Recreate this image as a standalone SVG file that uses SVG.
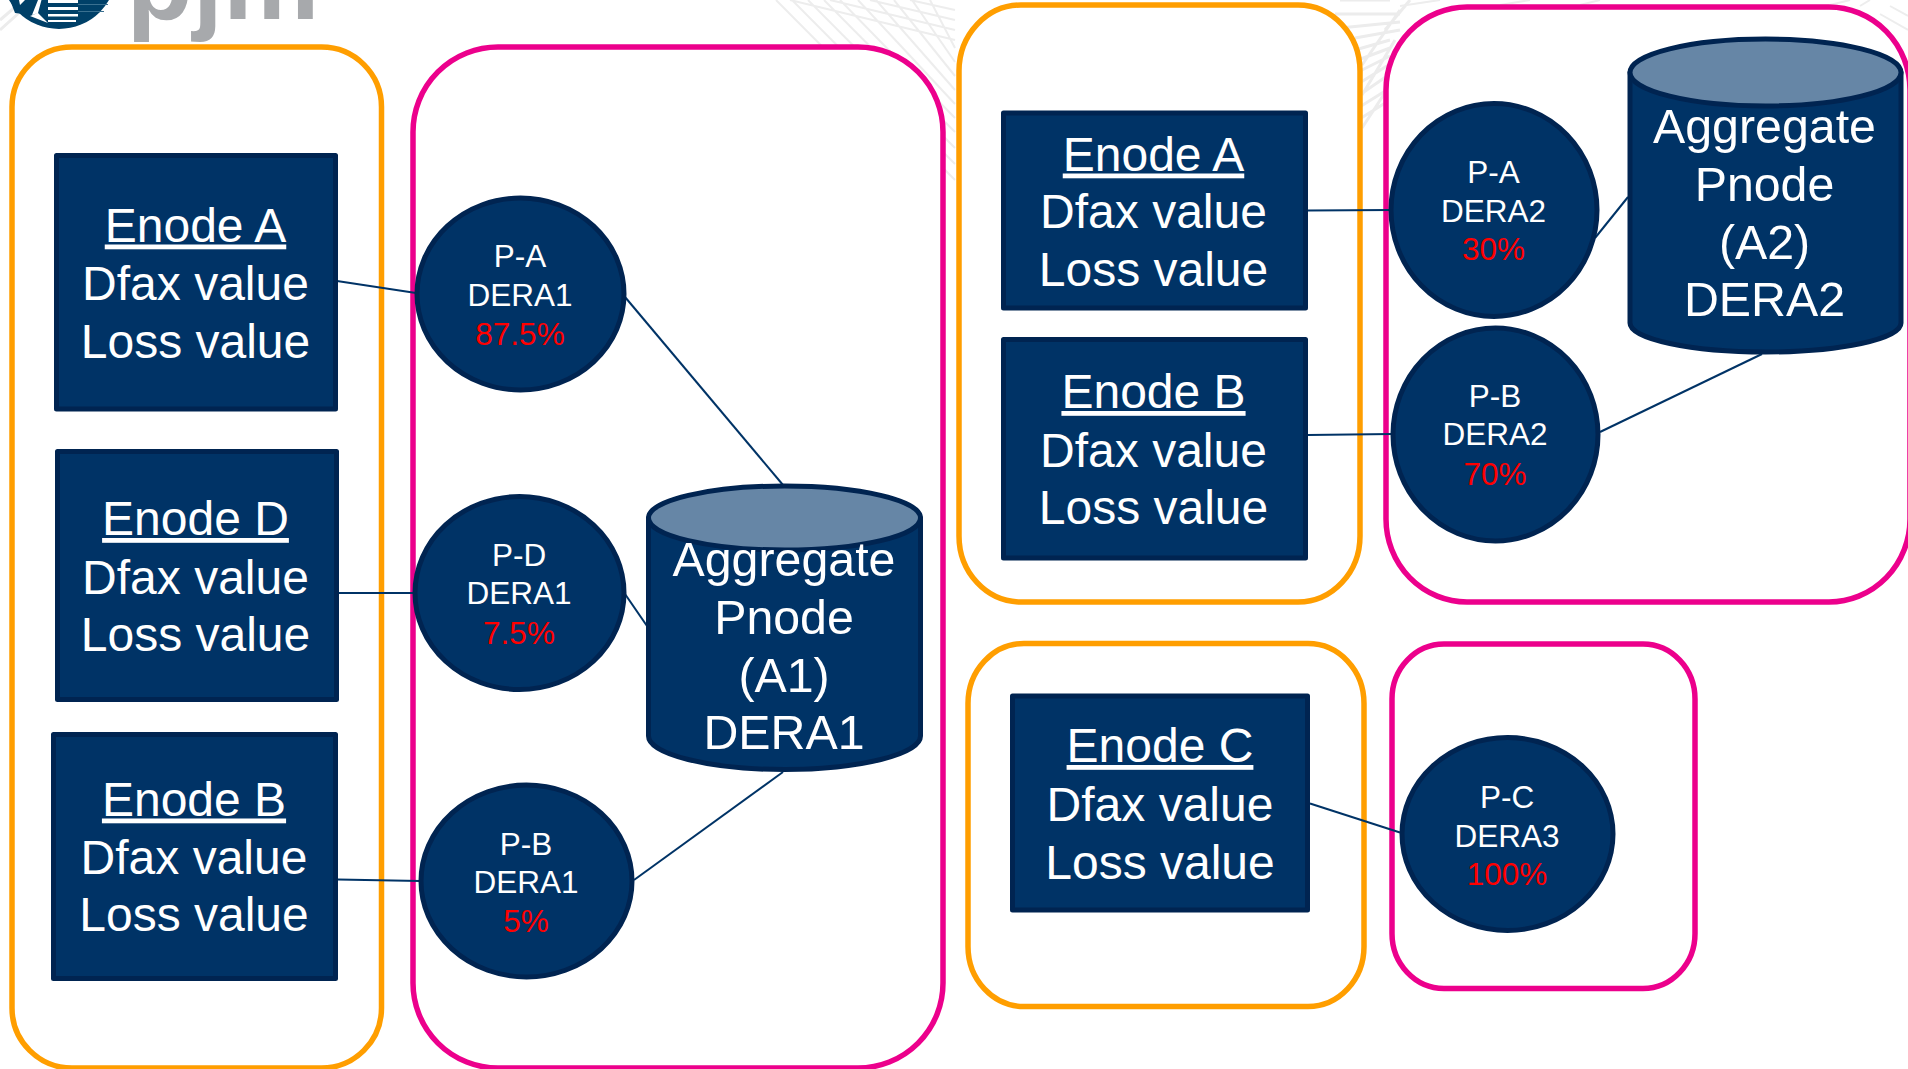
<svg xmlns="http://www.w3.org/2000/svg" width="1908" height="1069" viewBox="0 0 1908 1069">
<style>
text{font-family:"Liberation Sans",Arial,sans-serif;text-anchor:middle;fill:#fff}
.big{font-size:48px}
.agg{font-size:48.3px}
.sm{font-size:31.5px}
.pct{fill:#ff0000}
.u{text-decoration:underline}
.n{fill:#003366;stroke:#002451;stroke-width:5;stroke-linejoin:round}
.top{fill:#6686a6;stroke:#002451;stroke-width:5}
.or{fill:#fff;stroke:#ff9e00;stroke-width:5.5}
.pk{fill:#fff;stroke:#ec008c;stroke-width:5.5}
.c{stroke:#003366;stroke-width:2;fill:none}
.bg{stroke:#ededed;stroke-width:2;fill:none}
.bg3{stroke:#ececec;stroke-width:3;fill:none}
</style>
<rect width="1908" height="1069" fill="#fff"/>
<g id="background">
<path class="bg" d="M776 0L955 180M792 0L955 164M808 0L955 148M824 0L955 132M840 0L955 118M858 0L955 104M876 0L955 90M894 0L955 76M912 0L955 62M930 0L955 48M790 0L955 40M830 0L955 30M870 0L955 20M910 0L955 10"/>
<path class="bg3" d="M1335 14H1400M1340 28L1400 22M1355 38L1400 30M1355 50L1390 40M1358 60L1390 48M1358 72L1390 56M1358 84L1390 64M1358 96L1390 74M1358 108L1390 88M1358 120L1390 100M1362 128L1390 85M1362 95L1395 40M1362 65L1400 10M1385 30L1410 0M1390 0L1340 0"/>
<path class="bg" d="M1400 6L1440 0M1500 5L1530 0M1580 5L1600 0M1830 5L1850 0M1860 6L1870 0M1880 14L1908 30M1890 6L1908 16"/>
<path class="bg3" d="M0 20L14 8M0 30L20 12"/>
</g>
<g id="logo">
<circle cx="59" cy="-28.6" r="57.6" fill="#004068"/>
<path fill="#004068" d="M10 0L15 13L32 15L38 0Z"/>
<path fill="#fff" d="M20 5L25 0H19ZM32 15L38 13L41.500 0H38ZM38 13L48 23L30 16Z"/>
<path fill="#fff" d="M48 0H78V3H48ZM48 7H78V10H48ZM48 14H78V16.500H48ZM48 20H76V22H48Z"/>
<path fill="#3a7090" d="M78 4H108V5H78ZM78 11H104V12H78Z"/>
<text id="pjm" x="126.500" y="18.5" style="font-size:108.500px;font-weight:bold;fill:#a7a9ac;text-anchor:start">pjm</text>
</g>
<g id="groups">
<rect id="group-enodes-1" class="or" x="12" y="47" width="369.5" height="1021" rx="60" ry="60"/>
<rect id="group-pnodes-1" class="pk" x="413" y="47" width="530" height="1021" rx="85" ry="85"/>
<rect id="group-enodes-2" class="or" x="959" y="5" width="401" height="597" rx="62" ry="66"/>
<rect id="group-pnodes-2" class="pk" x="1386" y="7" width="524" height="595" rx="81" ry="83"/>
<rect id="group-enodes-3" class="or" x="968" y="643.5" width="396" height="363" rx="56" ry="60"/>
<rect id="group-pnodes-3" class="pk" x="1392" y="644" width="303" height="344.500" rx="52" ry="55"/>
</g>
<g id="connectors">
<path class="c" d="M337 281L416 293"/>
<path class="c" d="M337 593L414 593"/>
<path class="c" d="M338 879.500L420 881"/>
<path class="c" d="M625 297L783 485"/>
<path class="c" d="M625 594L647 626"/>
<path class="c" d="M634 880L783 772"/>
<path class="c" d="M1308 210.500L1391 210"/>
<path class="c" d="M1308 435L1392 434"/>
<path class="c" d="M1595 238L1628 197"/>
<path class="c" d="M1600 432L1762 354"/>
<path class="c" d="M1310 803.500L1400 832.500"/>
</g>
<g id="enode-a-1"><rect class="n" x="56.500" y="155.500" width="279" height="253.500"/>
<text class="big u" x="195.500" y="241.500">Enode A</text><text class="big" x="195.500" y="299.500">Dfax value</text><text class="big" x="195.500" y="357.500">Loss value</text></g>
<g id="enode-d-1"><rect class="n" x="57.500" y="451.500" width="279" height="248"/>
<text class="big u" x="195.500" y="535">Enode D</text><text class="big" x="195.500" y="593.500">Dfax value</text><text class="big" x="195.500" y="650.500">Loss value</text></g>
<g id="enode-b-1"><rect class="n" x="53.500" y="734.500" width="282" height="244"/>
<text class="big u" x="194" y="815.500">Enode B</text><text class="big" x="194" y="873.500">Dfax value</text><text class="big" x="194" y="931">Loss value</text></g>
<g id="enode-a-2"><rect class="n" x="1003.500" y="113" width="302" height="195"/>
<text class="big u" x="1153.500" y="170.500">Enode A</text><text class="big" x="1153.500" y="228">Dfax value</text><text class="big" x="1153.500" y="286">Loss value</text></g>
<g id="enode-b-2"><rect class="n" x="1003.500" y="339.500" width="302" height="218.500"/>
<text class="big u" x="1153.500" y="408">Enode B</text><text class="big" x="1153.500" y="466.500">Dfax value</text><text class="big" x="1153.500" y="524">Loss value</text></g>
<g id="enode-c"><rect class="n" x="1012.500" y="696" width="295" height="214"/>
<text class="big u" x="1160" y="762">Enode C</text><text class="big" x="1160" y="820.500">Dfax value</text><text class="big" x="1160" y="878.500">Loss value</text></g>
<g id="pnode-a-dera1"><ellipse class="n" cx="520.500" cy="294" rx="103.500" ry="96"/>
<text class="sm" x="520" y="267">P-A</text><text class="sm" x="520" y="306">DERA1</text><text class="sm pct" x="520" y="344.500">87.5%</text></g>
<g id="pnode-d-dera1"><ellipse class="n" cx="519.500" cy="593" rx="104.500" ry="96.500"/>
<text class="sm" x="519" y="566">P-D</text><text class="sm" x="519" y="604">DERA1</text><text class="sm pct" x="519" y="643.500">7.5%</text></g>
<g id="pnode-b-dera1"><ellipse class="n" cx="526.500" cy="881" rx="105.500" ry="96"/>
<text class="sm" x="526" y="854.500">P-B</text><text class="sm" x="526" y="893">DERA1</text><text class="sm pct" x="526" y="932">5%</text></g>
<g id="pnode-a-dera2"><ellipse class="n" cx="1494" cy="210" rx="103" ry="106.500"/>
<text class="sm" x="1493.500" y="182.500">P-A</text><text class="sm" x="1493.500" y="221.500">DERA2</text><text class="sm pct" x="1493.500" y="259.500">30%</text></g>
<g id="pnode-b-dera2"><ellipse class="n" cx="1495.500" cy="434.500" rx="102.500" ry="106.500"/>
<text class="sm" x="1495" y="407">P-B</text><text class="sm" x="1495" y="445">DERA2</text><text class="sm pct" x="1495" y="484.500">70%</text></g>
<g id="pnode-c-dera3"><ellipse class="n" cx="1507.500" cy="834" rx="105.500" ry="96.500"/>
<text class="sm" x="1507" y="807.500">P-C</text><text class="sm" x="1507" y="846.500">DERA3</text><text class="sm pct" x="1507" y="885">100%</text></g>
<g id="aggregate-a1">
<path class="n" d="M648.500 518V736C648.500 754 709 769.500 784.500 769.500S920.500 754 920.500 736V518Z"/>
<ellipse class="top" cx="784.500" cy="518" rx="136" ry="32"/>
<text class="agg" x="784" y="575.500">Aggregate</text><text class="agg" x="784" y="633.500">Pnode</text><text class="agg" x="784" y="691.500">(A1)</text><text class="agg" x="784" y="749">DERA1</text></g>
<g id="aggregate-a2">
<path class="n" d="M1630 72.500V323C1630 339 1691 352 1765.500 352S1901 339 1901 323V72.500Z"/>
<ellipse class="top" cx="1765.500" cy="72.500" rx="135.500" ry="33.500"/>
<text class="agg" x="1764.500" y="142.500">Aggregate</text><text class="agg" x="1764.500" y="201">Pnode</text><text class="agg" x="1764.500" y="259">(A2)</text><text class="agg" x="1764.500" y="316">DERA2</text></g>
</svg>
